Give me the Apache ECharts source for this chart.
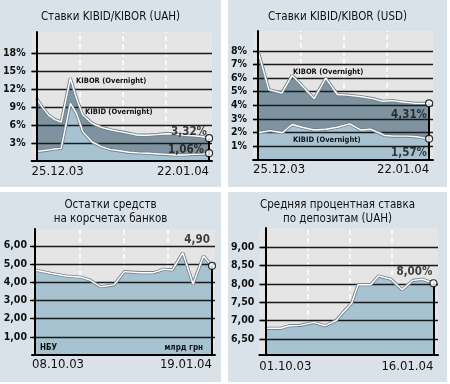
<!DOCTYPE html>
<html><head><meta charset="utf-8">
<script src="https://cdn.jsdelivr.net/npm/echarts@6/dist/echarts.min.js"></script>
<style>
html,body{margin:0;padding:0;background:#fff;width:450px;height:384px;overflow:hidden}
.p{position:absolute}
</style></head><body>
<div id="p1" class="p" style="left:0;top:0;width:221px;height:187px"></div>
<div id="p2" class="p" style="left:228px;top:0;width:219px;height:187px"></div>
<div id="p3" class="p" style="left:0;top:192px;width:221px;height:190px"></div>
<div id="p4" class="p" style="left:228px;top:192px;width:219px;height:190px"></div>
<script>
// ---- data ----
// Panel 1: KIBID/KIBOR (UAH), x = days since 25.12.03
const uahDays   = [0, 1, 2, 3, 4, 5.5, 6.5, 7.5, 9, 10.5, 12, 13.5, 15, 16.5, 18, 19.5, 21, 22.5, 24, 25.5, 27, 28];
const kiborUah  = [10.4, 8.9, 7.6, 6.9, 6.5, 13.8, 10.4, 7.7, 6.3, 5.6, 5.2, 4.9, 4.6, 4.3, 4.3, 4.4, 4.55, 4.5, 4.3, 4.2, 4.05, 3.8];
const kibidUah  = [1.6, 1.7, 1.85, 2.0, 2.1, 9.6, 7.9, 4.9, 3.2, 2.4, 1.9, 1.7, 1.45, 1.35, 1.3, 1.2, 1.1, 1.0, 1.0, 1.1, 1.15, 1.3];
const uahDates  = ['25.12.03', '22.01.04'];
const uahTicks  = [3, 6, 9, 12, 15, 18];
const uahEnd    = ['3,32%', '1,06%'];

// Panel 2: KIBID/KIBOR (USD)
const usdKiborDays = [0, 1.8, 3.9, 5.6, 7.3, 9.2, 11.1, 13, 14.6, 16.7, 18.8, 20.4, 22, 23.6, 25.8, 28];
const kiborUsd     = [8.0, 5.15, 4.9, 6.2, 5.4, 4.5, 6.0, 4.8, 4.75, 4.65, 4.5, 4.3, 4.35, 4.25, 4.15, 4.15];
const usdKibidDays = [0, 2, 4, 5.6, 7.2, 9.2, 11.1, 13, 15, 16.8, 18.5, 20.7, 22.3, 24.4, 26, 28];
const kibidUsd     = [2.0, 2.15, 2.0, 2.6, 2.4, 2.2, 2.25, 2.4, 2.65, 2.2, 2.25, 1.8, 1.75, 1.75, 1.7, 1.55];
const usdDates  = ['25.12.03', '22.01.04'];
const usdTicks  = [1, 2, 3, 4, 5, 6, 7, 8];
const usdEnd    = ['4,31%', '1,57%'];

// Panel 3: reserves on correspondent accounts (bn UAH), x = days since 08.10.03
const reserveDays = [0, 9, 18, 27, 32, 38, 46, 52, 61, 69, 75, 80, 86, 92, 98, 103];
const reserves    = [4.67, 4.49, 4.34, 4.27, 4.12, 3.75, 3.85, 4.58, 4.52, 4.52, 4.71, 4.67, 5.62, 3.9, 5.44, 4.9];
const reserveDates = ['08.10.03', '19.01.04'];
const reserveTicks = [1, 2, 3, 4, 5, 6];
const reserveEnd   = ['4,90'];

// Panel 4: average deposit rate (UAH), x = days since 01.10.03
const depositDays = [0, 10, 15, 22, 31, 38, 45, 50, 55, 59, 67, 72, 80, 87, 94, 100, 107];
const deposits    = [6.79, 6.79, 6.86, 6.87, 6.95, 6.86, 7.0, 7.25, 7.48, 7.98, 7.98, 8.22, 8.13, 7.84, 8.1, 8.13, 8.02];
const depositDates = ['01.10.03', '16.01.04'];
const depositTicks = [6.5, 7, 7.5, 8, 8.5, 9];
const depositEnd   = ['8,00%'];

// ---- styling ----
const FONT = "'Liberation Sans Narrow','DejaVu Sans Condensed','Arial Narrow',sans-serif";
const PANEL_BG = '#d9e2e8';
const PLOT_BG = '#e5e5e5';
const DARK = '#7e939f';
const LIGHT = '#a7c2d0';
const EDGE = '#71848f';
const pct = v => v + '%';
const comma = v => v.toFixed(2).replace('.', ',');

function build(cfg) {
  const chart = echarts.init(document.getElementById(cfg.id), null, {renderer: 'canvas'});
  const series = [];
  const first = cfg.series[0];
  const firstData = first.x.map((d, i) => [d, first.y[i]]);
  // vertical dashed quarter lines (below areas)
  series.push({
    type: 'line', data: firstData, z: 1, symbol: 'none', silent: true,
    lineStyle: {opacity: 0},
    markLine: {z: 1, silent: true, symbol: 'none', label: {show: false},
      lineStyle: {color: '#ffffff', width: 1.5, type: [5, 3]},
      data: cfg.quarters.map(q => ({xAxis: q}))}
  });
  // areas
  cfg.series.forEach(s => {
    series.push({type: 'line', data: s.x.map((d, i) => [d, s.y[i]]), z: 2, symbol: 'none', silent: true,
      lineStyle: {opacity: 0}, areaStyle: {color: s.fill, opacity: 1}});
  });
  // horizontal grid lines
  series.push({
    type: 'line', data: firstData, z: 3, symbol: 'none', silent: true,
    lineStyle: {opacity: 0},
    markLine: {z: 3, silent: true, symbol: 'none', label: {show: false},
      lineStyle: {color: '#1a1a1a', width: 1.3, type: 'solid'},
      data: cfg.ticks.map(t => ({yAxis: t}))}
  });
  // white lines with grey edges
  cfg.series.forEach(s => {
    const data = s.x.map((d, i) => [d, s.y[i]]);
    series.push({type: 'line', data, z: 4, symbol: 'none', silent: true, lineStyle: {color: EDGE, width: 3.2}});
    series.push({type: 'line', data, z: 5, symbol: 'none', silent: true, lineStyle: {color: '#ffffff', width: 1.4}});
  });
  // end markers
  cfg.series.forEach((s, k) => {
    const lx = s.x[s.x.length - 1], ly = s.y[s.y.length - 1];
    const ser = {
      type: 'scatter', z: 7, data: [[lx, ly]], symbol: 'circle', symbolSize: 7, silent: true,
      itemStyle: {color: '#ffffff', borderColor: '#000', borderWidth: 1.2},
      label: {show: true, formatter: s.endLabel, position: 'left', distance: 0, offset: s.labelOffset,
        fontFamily: FONT, fontWeight: 'bold', fontSize: 11.5, color: '#111'}
    };
    if (k === 0) {
      ser.markLine = {z: 6, silent: true, symbol: 'none', label: {show: false},
        lineStyle: {color: '#000', width: 2, type: 'solid'},
        data: [[{coord: [lx, ly]}, {coord: [lx, cfg.yMin]}]]};
    }
    series.push(ser);
  });
  const lastX = first.x[first.x.length - 1];
  chart.setOption({
    animation: false,
    backgroundColor: PANEL_BG,
    title: {text: cfg.title, left: 'center', top: cfg.titleTop,
      textStyle: {fontFamily: FONT, fontSize: 11.5, fontWeight: 'normal', color: '#111', lineHeight: 14}},
    grid: Object.assign({show: true, backgroundColor: PLOT_BG, borderWidth: 0}, cfg.grid),
    xAxis: {
      type: 'value', min: cfg.xMin, max: cfg.xMax, z: 8,
      axisLine: {show: true, onZero: false, lineStyle: {color: '#000', width: 2}},
      axisTick: {show: false}, splitLine: {show: false},
      axisLabel: {customValues: [cfg.xMin, lastX], formatter: v => (v === lastX ? cfg.dates[1] : cfg.dates[0]),
        alignMinLabel: 'left', alignMaxLabel: 'right', margin: cfg.xMargin,
        fontFamily: FONT, fontSize: 13, color: '#111'}
    },
    yAxis: {
      type: 'value', min: cfg.yMin, max: cfg.yMax, z: 8,
      axisLine: {show: true, lineStyle: {color: '#000', width: 2}},
      axisTick: {show: true, customValues: cfg.ticks, length: 5, lineStyle: {color: '#000', width: 1.3}},
      splitLine: {show: false},
      axisLabel: {customValues: cfg.ticks, formatter: cfg.yFmt, margin: cfg.yMargin,
        fontFamily: FONT, fontWeight: 'bold', fontSize: 10.5, color: '#111'}
    },
    graphic: cfg.notes.map(n => ({type: 'text', x: n.x, y: n.y, z: 10, silent: true,
      style: {text: n.text, fill: '#111', font: 'bold ' + n.size + 'px ' + FONT, align: n.align || 'left', verticalAlign: 'middle'}})),
    series
  });
}

build({
  id: 'p1', title: 'Ставки KIBID/KIBOR (UAH)', titleTop: 5,
  grid: {left: 28, top: 32, width: 184, height: 129},
  xMin: -0.795, xMax: 28.48, yMin: 0, yMax: 21.5, quarters: [7, 14, 21],
  ticks: uahTicks, yFmt: pct, dates: uahDates, xMargin: 4, yMargin: 6,
  series: [
    {x: uahDays, y: kiborUah, fill: DARK, endLabel: uahEnd[0], labelOffset: [2, -6]},
    {x: uahDays, y: kibidUah, fill: LIGHT, endLabel: uahEnd[1], labelOffset: [-1, -3]}
  ],
  notes: [
    {text: 'KIBOR (Overnight)', x: 76, y: 81, size: 7.5},
    {text: 'KIBID (Overnight)', x: 85, y: 112, size: 7.5}
  ]
});
build({
  id: 'p2', title: 'Ставки KIBID/KIBOR (USD)', titleTop: 5,
  grid: {left: 21, top: 31, width: 184, height: 129},
  xMin: -0.8, xMax: 28.64, yMin: 0, yMax: 9.45, quarters: [7, 14, 21],
  ticks: usdTicks, yFmt: pct, dates: usdDates, xMargin: 3, yMargin: 6,
  series: [
    {x: usdKiborDays, y: kiborUsd, fill: DARK, endLabel: usdEnd[0], labelOffset: [2, 12]},
    {x: usdKibidDays, y: kibidUsd, fill: LIGHT, endLabel: usdEnd[1], labelOffset: [2, 14]}
  ],
  notes: [
    {text: 'KIBOR (Overnight)', x: 65, y: 72, size: 7.5},
    {text: 'KIBID (Overnight)', x: 65, y: 140, size: 7.5}
  ]
});
build({
  id: 'p3', title: 'Остатки средств\nна корсчетах банков', titleTop: 1,
  grid: {left: 32, top: 37, width: 183, height: 126},
  xMin: -1.75, xMax: 104.75, yMin: 0, yMax: 6.92, quarters: [25.75, 51.5, 77.25],
  ticks: reserveTicks, yFmt: comma, dates: reserveDates, xMargin: 3, yMargin: 5,
  series: [
    {x: reserveDays, y: reserves, fill: LIGHT, endLabel: reserveEnd[0], labelOffset: [2, -26]}
  ],
  notes: [
    {text: 'НБУ', x: 40, y: 156, size: 8},
    {text: 'млрд грн', x: 203, y: 156, size: 8, align: 'right'}
  ]
});
build({
  id: 'p4', title: 'Средняя процентная ставка\nпо депозитам (UAH)', titleTop: 1,
  grid: {left: 24, top: 36, width: 186, height: 127},
  xMin: -3.85, xMax: 109.9, yMin: 6.06, yMax: 9.53, quarters: [26.75, 53.5, 80.25],
  ticks: depositTicks, yFmt: comma, dates: depositDates, xMargin: 5, yMargin: 5,
  series: [
    {x: depositDays, y: deposits, fill: LIGHT, endLabel: depositEnd[0], labelOffset: [3, -11]}
  ],
  notes: []
});
</script>
</body></html>
